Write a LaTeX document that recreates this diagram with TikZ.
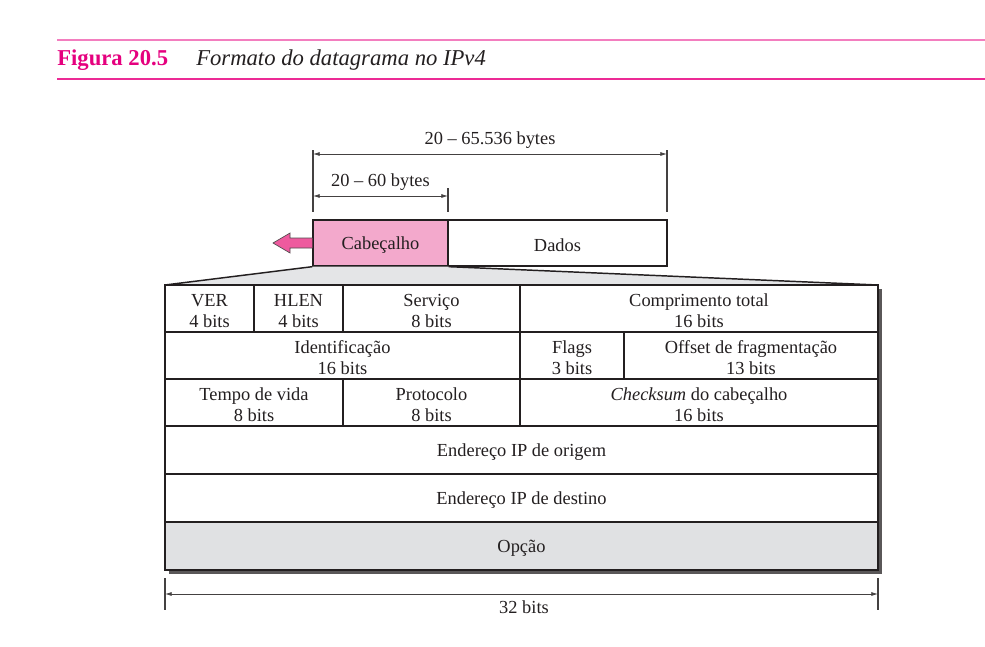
\documentclass[tikz,border=0pt]{standalone}
\usepackage{fontspec}
\setmainfont{Liberation Serif}
\usetikzlibrary{arrows.meta}
\definecolor{rosa}{HTML}{E5007E}
\definecolor{ruleA}{HTML}{F37EBF}
\definecolor{ruleB}{HTML}{EC2A95}
\definecolor{headfill}{HTML}{F3A9CC}
\definecolor{arrowfill}{HTML}{EE5A9E}
\definecolor{optfill}{HTML}{E0E1E3}
\definecolor{trapfill}{HTML}{E4E5E7}
\definecolor{ink}{HTML}{231F20}
\newcommand\mycell[7][]{%
  \node[cell,#1,minimum width={(#5-#3)*0.75pt},minimum height={(#6-#4)*0.75pt}]
    (#2) at ({(#3+#5)/2},{(#4+#6)/2}) {};
  \node[txt] (#2-t) at ([yshift=-1.6pt]#2.center) {#7};}
\begin{document}
\begin{tikzpicture}[x=0.75pt,y=-0.75pt,
  txt/.style={font=\fontsize{13.8}{15.75}\selectfont, text=ink, align=center, inner sep=0pt},
  cell/.style={draw=ink, line width=1pt, inner sep=0pt},
  dimline/.style={draw=ink!85, line width=0.6pt, {Latex[length=5pt,width=3pt]}-{Latex[length=5pt,width=3pt]}},
  tickline/.style={draw=ink!85, line width=0.8pt},
  edge/.style={draw=ink, line width=1.1pt}]
\useasboundingbox (0,0) rectangle (985,646);
% header rules and caption
\coordinate (rA1) at (57,40); \coordinate (rA2) at (985,40);
\coordinate (rB1) at (57,79); \coordinate (rB2) at (985,79);
\draw[ruleA, line width=1.5pt] (rA1) -- (rA2);
\draw[ruleB, line width=1.5pt] (rB1) -- (rB2);
\node[anchor=base west, inner sep=0pt, text=rosa, font=\fontsize{17}{20}\selectfont\bfseries] (fig) at (57,65) {Figura 20.5};
\node[anchor=base west, inner sep=0pt, text=ink, font=\fontsize{17}{20}\selectfont\itshape] (cap) at (196,65) {Formato do datagrama no IPv4};
% datagram boxes
\mycell[fill=headfill]{cab}{313}{220}{448}{266}{Cabeçalho}
\mycell[fill=white]{dados}{448}{220}{667}{266}{Dados}
% pink arrow
\draw[fill=arrowfill, draw=ink!80, line width=0.5pt]
  (cab.west |- 0,238) -- (290,238) -- (290,233) -- (273,243) -- (290,253) -- (290,248) -- (cab.west |- 0,248);
% dimension ticks
\coordinate (t1a) at (313,150); \coordinate (t1b) at (313,212);
\coordinate (t2a) at (448,188); \coordinate (t2b) at (448,212);
\coordinate (t3a) at (667,150); \coordinate (t3b) at (667,212);
\draw[tickline] (t1a) -- (t1b);
\draw[tickline] (t2a) -- (t2b);
\draw[tickline] (t3a) -- (t3b);
\coordinate (d1a) at (313,154); \coordinate (d1b) at (667,154);
\coordinate (d2a) at (313,196); \coordinate (d2b) at (448,196);
\draw[dimline] (d1a) -- (d1b);
\draw[dimline] (d2a) -- (d2b);
\node[txt] (l1) at (490,140) {20 – 65.536 bytes};
\node[txt] (l2) at (380.5,182) {20 – 60 bytes};
% trapezoid
\coordinate (zL) at (165,285); \coordinate (zR) at (878,285);
\fill[trapfill] (cab.south west) -- (zL) -- (zR) -- (cab.south east) -- cycle;
\draw[edge] (cab.south west) -- (zL);
\draw[edge] (cab.south east) -- (zR);
% shadow
\fill[ink!75] (169,289) rectangle (882,574);
\fill[white] (165,285) rectangle (878,570);
% row 1
\mycell{ver}{165}{285}{254}{332}{VER\\4 bits}
\mycell{hlen}{254}{285}{343}{332}{HLEN\\4 bits}
\mycell{serv}{343}{285}{520}{332}{Serviço\\8 bits}
\mycell{comp}{520}{285}{878}{332}{Comprimento total\\16 bits}
% row 2
\mycell{ident}{165}{332}{520}{379}{Identificação\\16 bits}
\mycell{flags}{520}{332}{624}{379}{Flags\\3 bits}
\mycell{offs}{624}{332}{878}{379}{Offset de fragmentação\\13 bits}
% row 3
\mycell{ttl}{165}{379}{343}{426}{Tempo de vida\\8 bits}
\mycell{proto}{343}{379}{520}{426}{Protocolo\\8 bits}
\mycell{chk}{520}{379}{878}{426}{\textit{Checksum} do cabeçalho\\16 bits}
% rows 4-6
\mycell{orig}{165}{426}{878}{474}{Endereço IP de origem}
\mycell{dest}{165}{474}{878}{522}{Endereço IP de destino}
\mycell[fill=optfill]{opc}{165}{522}{878}{570}{Opção}
% bottom dimension
\coordinate (b1a) at (165,578); \coordinate (b1b) at (165,610);
\coordinate (b2a) at (878,578); \coordinate (b2b) at (878,610);
\draw[tickline] (b1a) -- (b1b);
\draw[tickline] (b2a) -- (b2b);
\coordinate (bd1) at (165,594); \coordinate (bd2) at (878,594);
\draw[dimline] (bd1) -- (bd2);
\node[txt] (l3) at (524,607) {32 bits};
\end{tikzpicture}
\end{document}
